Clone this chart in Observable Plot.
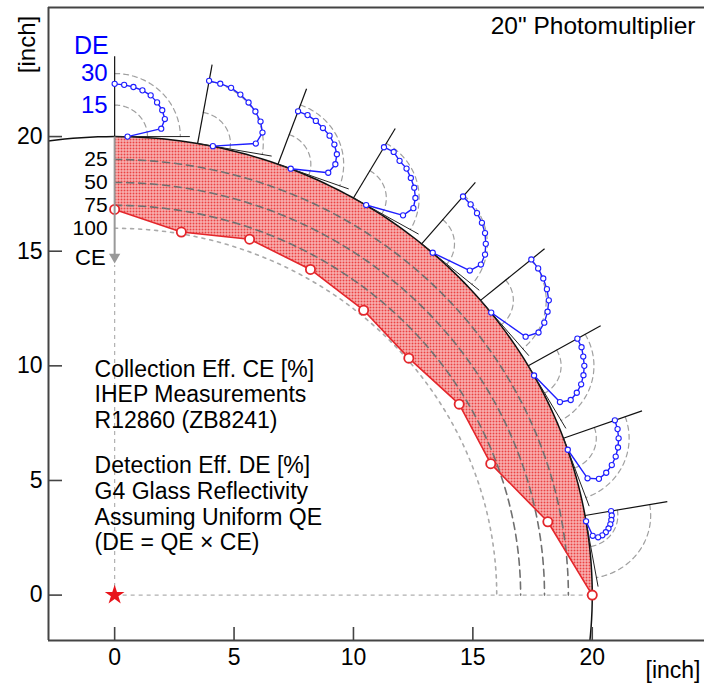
<!DOCTYPE html>
<html><head><meta charset="utf-8">
<script src="https://cdn.jsdelivr.net/npm/d3@7"></script>
<script src="https://cdn.jsdelivr.net/npm/@observablehq/plot@0.6"></script>
<style>body{margin:0;background:#fff;}</style>
</head><body><div id="chart"></div>
<script>
// ---- data ----
const ceAngles = [0, 10, 20, 30, 40, 50, 60, 70, 80, 90];          // degrees from top
const ceValues = [79.5, 98, 87, 90, 94.5, 98, 83.5, 81, 39.5, 0];   // collection efficiency [%]
const dePositions = [0, 10, 20, 30, 40, 50, 60, 70, 80];           // where each DE polar sits
const deAngles = [0, 10, 20, 30, 40, 50, 60, 70, 80, 90];          // incidence angle within each polar
const de0  = [25.1, 25.0, 25.1, 25.4, 25.6, 25.3, 25.1, 24.4, 21.6, 5.9];
const de10 = [30.3, 30.3, 30.6, 30.4, 30.4, 30.5, 30.6, 30.1, 26.6, 7.1];
const de20 = [26.8, 27.0, 26.9, 26.8, 27.2, 27.4, 27.3, 26.2, 23.3, 6.2];
const de30 = [27.9, 28.6, 27.5, 28.0, 27.9, 28.2, 28.3, 27.8, 24.1, 6.7];
const de40 = [29.4, 29.2, 29.2, 29.3, 29.4, 29.3, 29.4, 28.8, 25.4, 6.6];
const de50 = [30.3, 30.4, 30.5, 30.8, 31.2, 31.1, 31.0, 30.6, 26.9, 7.6];
const de60 = [25.9, 25.9, 25.5, 25.6, 25.6, 25.7, 25.6, 25.3, 22.5, 5.3];
const de70 = [25.0, 25.1, 25.2, 25.3, 25.4, 25.5, 25.5, 25.2, 22.0, 5.8];
const de80 = [12.1, 12.2, 12.2, 12.3, 12.4, 12.4, 12.3, 12.0, 10.3, 2.8];
const ceTicks = [25, 50, 75, 100];
const deTicks = [15, 30];
const xTicks = [0, 5, 10, 15, 20];
const yTicks = [0, 5, 10, 15, 20];
const titleText = "20\" Photomultiplier";
const axisLabel = "[inch]";
const legend1 = "Collection Eff. CE [%]\nIHEP Measurements\nR12860 (ZB8241)";
const legend2 = "Detection Eff. DE [%]\nG4 Glass Reflectivity\nAssuming Uniform QE\n(DE = QE × CE)";

// ---- geometry helpers ----
const deSeries = [de0, de10, de20, de30, de40, de50, de60, de70, de80];
const R = 20, ceScale = 0.04, deScale = 2.75 / 30;
const radialLen = 3.5, tangentLen = 3.15;
const xMin = -2.77, xMax = 24.7, yMin = -1.98, yMax = 25.63;
const W = 704, H = 684, mL = 48, mR = 0, mT = 7, mB = 44;
const pxX = (W - mL - mR) / (xMax - xMin), pxY = (H - mT - mB) / (yMax - yMin);
const rad = d => d * Math.PI / 180;
const pt = (phi, r) => ({x: r * Math.sin(rad(phi)), y: r * Math.cos(rad(phi))});
const nrm = phi => [Math.sin(rad(phi)), Math.cos(rad(phi))];
const tan = phi => [Math.cos(rad(phi)), -Math.sin(rad(phi))];
function polar(phi, theta, r) {
  const b = pt(phi, R), n = nrm(phi), t = tan(phi);
  const c = Math.cos(rad(theta)), s = Math.sin(rad(theta));
  return {x: b.x + r * (c * n[0] + s * t[0]), y: b.y + r * (c * n[1] + s * t[1])};
}
const sweep = (a0, a1) => d3.range(a0, a1 + 0.001, 1);

// CE band
const cePts = ceAngles.map((a, i) => ({...pt(a, R - ceValues[i] * ceScale), ce: ceValues[i]}));
const band = [...sweep(0, 90).map(a => pt(a, R)), ...cePts.slice().reverse()];
const ceArcs = ceTicks.flatMap(c => sweep(0, 90).map(a => ({...pt(a, R - c * ceScale), c})));
const pmt = sweep(-10, 100).map(a => pt(a, R));

// DE polars
const dePts = dePositions.flatMap((phi, i) => deAngles.map((th, j) => ({phi, ...polar(phi, th, deSeries[i][j] * deScale)})));
const deArcs = dePositions.flatMap(phi => deTicks.flatMap(d => sweep(0, 90).map(th => ({key: phi + "-" + d, ...polar(phi, th, d * deScale)}))));
const radials = dePositions.map(phi => {const b = pt(phi, R), n = nrm(phi); return {x1: b.x, y1: b.y, x2: b.x + radialLen * n[0], y2: b.y + radialLen * n[1]};});
const tangents = dePositions.map(phi => {const b = pt(phi, R), t = tan(phi); return {x1: b.x, y1: b.y, x2: b.x + tangentLen * t[0], y2: b.y + tangentLen * t[1]};});

const FONT = "'Liberation Sans', Arial, Helvetica, sans-serif";
const BLUE = "#1f1fff", RED = "#e3262b";

const chart = Plot.plot({
  width: W, height: H, marginLeft: mL, marginRight: mR, marginTop: mT, marginBottom: mB,
  x: {domain: [xMin, xMax], ticks: xTicks, tickSize: 0, tickPadding: 8, label: null},
  y: {domain: [yMin, yMax], ticks: yTicks, tickSize: 0, tickPadding: 6, label: null},
  style: {fontFamily: FONT, fontSize: "23px", color: "black", background: "white", overflow: "visible"},
  marks: [
    // band
    Plot.line(band, {x: "x", y: "y", fill: "url(#dots)", stroke: "none"}),
    // CE reference arcs
    Plot.line(ceArcs.filter(d => d.c < 100), {x: "x", y: "y", z: "c", stroke: "#707070", strokeWidth: 1.6, strokeDasharray: "7,5"}),
    Plot.line(ceArcs.filter(d => d.c === 100), {x: "x", y: "y", z: "c", stroke: "#aaaaaa", strokeWidth: 1.6, strokeDasharray: "3,5"}),
    // centre guides
    Plot.link([{x1: 0, y1: 0, x2: R, y2: 0}], {x1: "x1", y1: "y1", x2: "x2", y2: "y2", stroke: "#b0b0b0", strokeWidth: 1.2, strokeDasharray: "4,4"}),
    Plot.link([{x1: 0, y1: 0, x2: 0, y2: 14.4}], {x1: "x1", y1: "y1", x2: "x2", y2: "y2", stroke: "#b0b0b0", strokeWidth: 1.2, strokeDasharray: "4,4"}),
    // CE measured line
    Plot.line(cePts, {x: "x", y: "y", stroke: RED, strokeWidth: 1.6}),
    // PMT glass
    Plot.line(pmt, {x: "x", y: "y", stroke: "#111", strokeWidth: 1.5, clip: true}),
    // DE polar frames
    Plot.line(deArcs, {x: "x", y: "y", z: "key", stroke: "#a0a0a0", strokeWidth: 1.2, strokeDasharray: "5,4"}),
    Plot.link(radials, {x1: "x1", y1: "y1", x2: "x2", y2: "y2", stroke: "#111", strokeWidth: 1.2}),
    Plot.link(tangents, {x1: "x1", y1: "y1", x2: "x2", y2: "y2", stroke: "#222", strokeWidth: 1}),
    // DE curves
    Plot.line(dePts, {x: "x", y: "y", z: "phi", stroke: BLUE, strokeWidth: 1.4}),
    Plot.dot(dePts, {x: "x", y: "y", r: 2.6, fill: "white", stroke: BLUE, strokeWidth: 1.1}),
    Plot.dot(cePts, {x: "x", y: "y", r: 4.6, fill: "white", stroke: RED, strokeWidth: 1.8}),
    // CE arrow
    Plot.link([{x1: 0, y1: R, x2: 0, y2: 14.6}], {x1: "x1", y1: "y1", x2: "x2", y2: "y2", stroke: "#999", strokeWidth: 2}),
    Plot.dot([{x: 0, y: 14.75}], {x: "x", y: "y", symbol: "triangle", rotate: 180, r: 4.2, fill: "#999", stroke: "none"}),
    // star
    Plot.dot([{x: 0, y: 0}], {x: "x", y: "y", symbol: "star", r: 6.2, fill: "#e8141b", stroke: "none"}),
    // frame
    Plot.ruleY([yMax], {stroke: "#444", strokeWidth: 2}),
    Plot.ruleY([yMin], {stroke: "#444", strokeWidth: 2}),
    Plot.ruleX([xMin], {stroke: "#444", strokeWidth: 2}),
    Plot.ruleX(xTicks, {x: d => d, y1: yMin, y2: yMin + 13 / pxY, stroke: "#444", strokeWidth: 1.6}),
    Plot.ruleY(yTicks, {y: d => d, x1: xMin, x2: xMin + 14 / pxX, stroke: "#444", strokeWidth: 1.6}),
    // CE / DE scale labels
    Plot.text(ceTicks, {x: () => 0, y: d => R - d * ceScale, text: d => String(d), dx: -7, textAnchor: "end", fontSize: 21}),
    Plot.text(["CE"], {x: () => 0, y: () => 14.7, text: d => d, dx: -9, textAnchor: "end", fontSize: 22}),
    Plot.text(deTicks, {x: () => 0, y: d => R + d * deScale, text: d => String(d), dx: -7, textAnchor: "end", fontSize: 24, fill: "#0000ff"}),
    Plot.text(["DE"], {x: () => 0, y: () => 23.93, text: d => d, dx: -6, textAnchor: "end", fontSize: 25, fill: "#0000ff"}),
    // legends
    Plot.text([legend1], {x: () => -0.84, y: () => 7.28, text: d => d, textAnchor: "start", lineAnchor: "bottom", lineHeight: 1.12, fontSize: 23}),
    Plot.text([legend2], {x: () => -0.84, y: () => 1.95, text: d => d, textAnchor: "start", lineAnchor: "bottom", lineHeight: 1.12, fontSize: 23}),
    // title & axis labels
    Plot.text([titleText], {frameAnchor: "top-right", text: d => d, dx: -9, dy: 26, textAnchor: "end", lineAnchor: "bottom", fontSize: 24.5}),
    Plot.text([axisLabel], {frameAnchor: "bottom-right", text: d => d, dx: -4, dy: 37, textAnchor: "end", lineAnchor: "bottom", fontSize: 23}),
    Plot.text([axisLabel], {frameAnchor: "top-left", text: d => d, dx: -14, dy: 37, rotate: -90, textAnchor: "middle", lineAnchor: "bottom", fontSize: 24})
  ]
});

const defs = document.createElementNS("http://www.w3.org/2000/svg", "defs");
defs.innerHTML = '<pattern id="dots" width="3" height="3" patternUnits="userSpaceOnUse"><rect width="3" height="3" fill="#fbcaca"/><rect width="2" height="2" fill="#ea4242"/></pattern>';
chart.insertBefore(defs, chart.firstChild);
document.getElementById("chart").appendChild(chart);
</script>
</body></html>
